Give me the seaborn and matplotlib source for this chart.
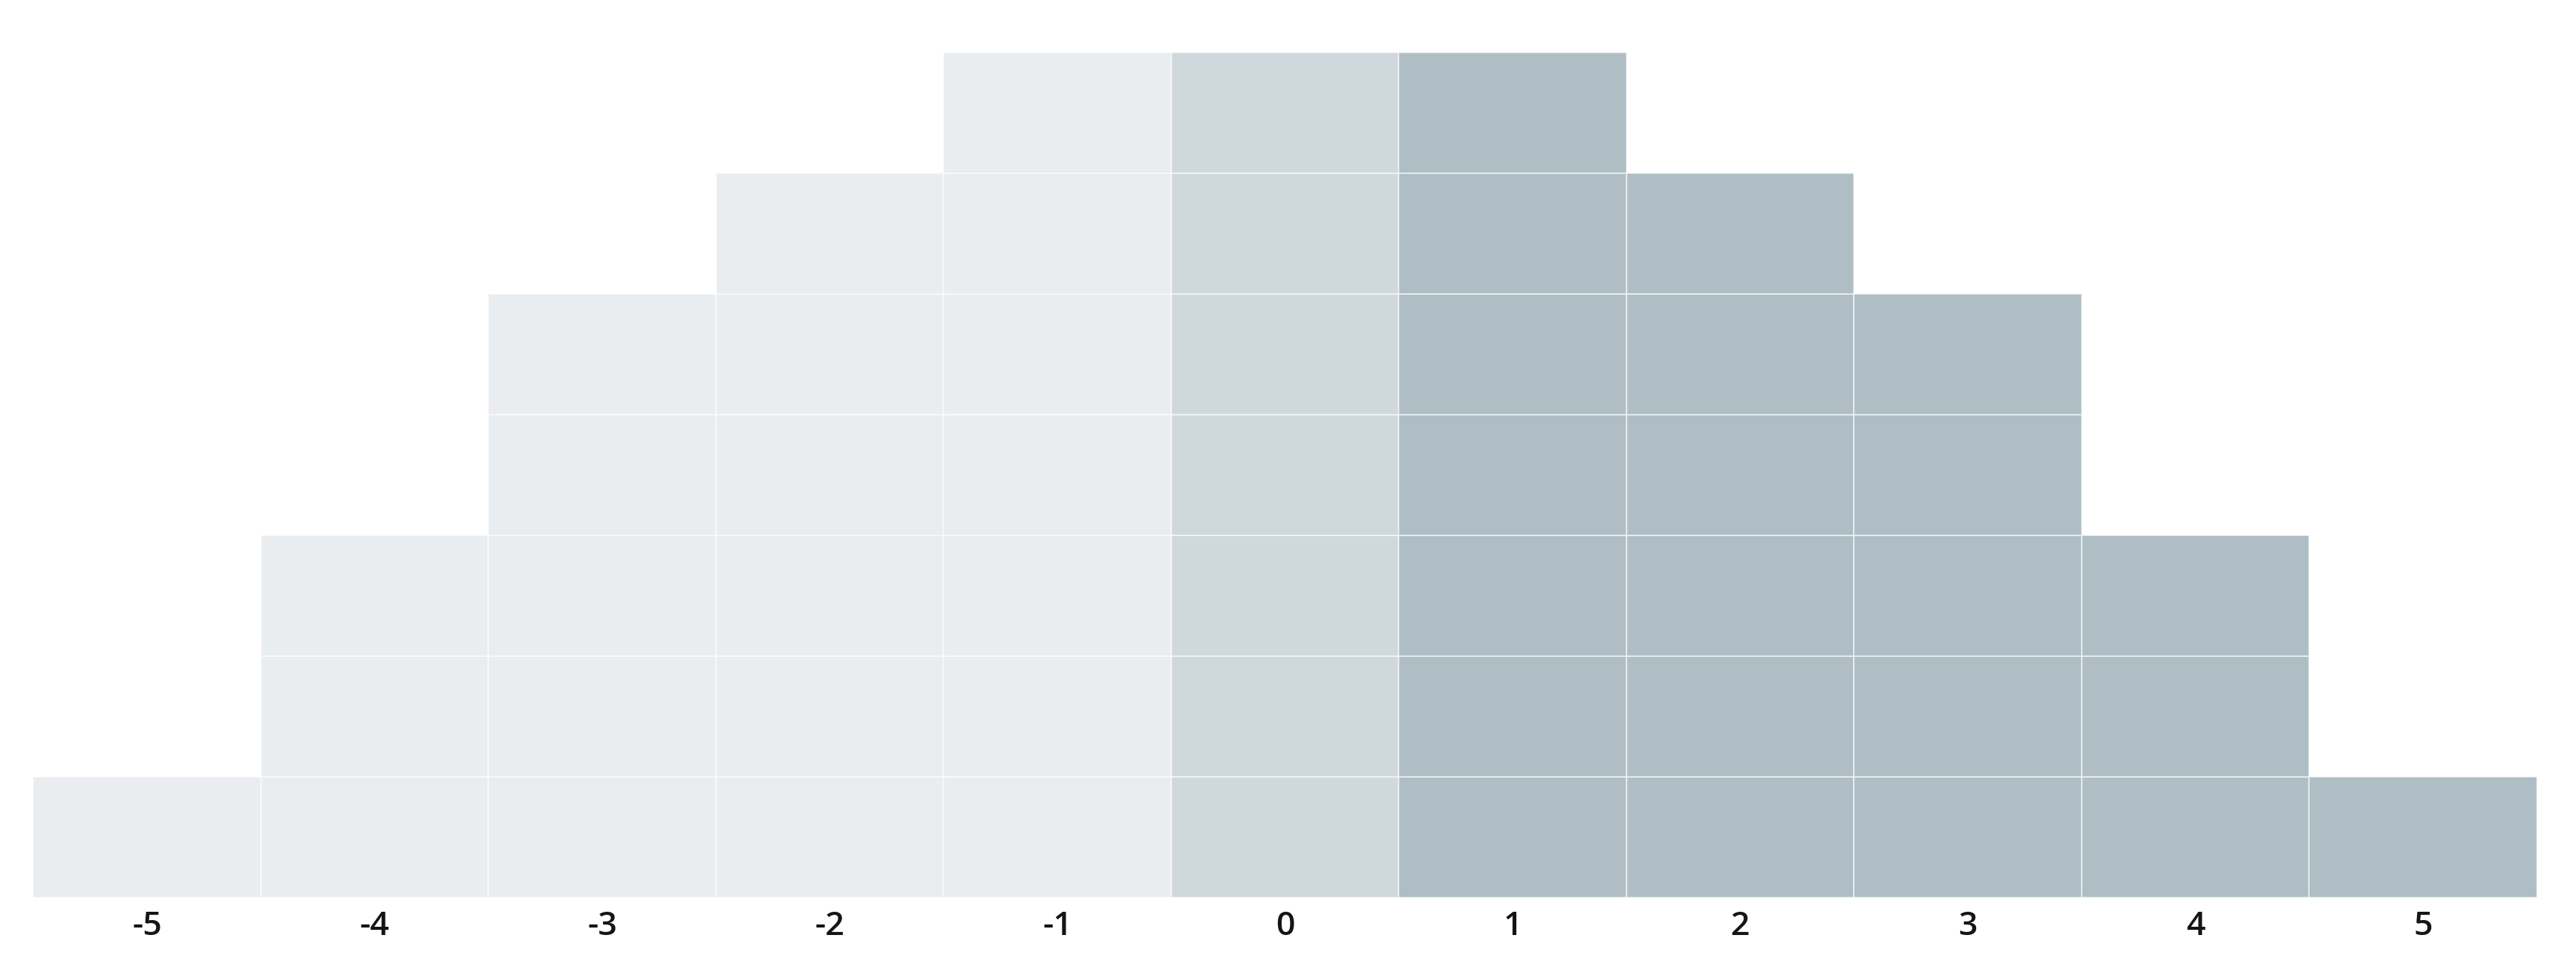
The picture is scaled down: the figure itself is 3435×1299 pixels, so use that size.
import matplotlib
matplotlib.use("Agg")
import matplotlib.pyplot as plt
import numpy as np
import pandas as pd
import seaborn as sns

sns.set_theme(style="white")
plt.rcParams["font.family"] = ["Open Sans", "DejaVu Sans"]

# Values on the x axis and how many squares are stacked on each
values = [-5, -4, -3, -2, -1, 0, 1, 2, 3, 4, 5]
counts = [1, 3, 5, 6, 7, 7, 7, 6, 5, 3, 1]

neg_color = "#e9edf0"
zero_color = "#cfd8dc"
pos_color = "#afbec4"

# One row per square in the stack
rows = []
for v, c in zip(values, counts):
    for level in range(c):
        rows.append({"value": v, "level": level})
df = pd.DataFrame(rows)


def pick_color(v):
    if v < 0:
        return neg_color
    if v == 0:
        return zero_color
    return pos_color


fig = plt.figure(figsize=(34.35, 12.99), dpi=100)
ax = fig.add_axes([44 / 3435, 1 - 1197 / 1299, (3383 - 44) / 3435, (1197 - 70) / 1299])

for level, grp in df.groupby("level"):
    ax.bar(grp["value"], 1, bottom=level, width=1.0,
           color=[pick_color(v) for v in grp["value"]],
           edgecolor=(1, 1, 1, 0.55), linewidth=1.5)

ax.set_xlim(-5.5, 5.5)
ax.set_ylim(0, 7)
ax.set_xticks(values)
ax.set_xticklabels([str(v) for v in values], fontsize=32, fontweight=600, color="#151515")
ax.tick_params(axis="x", length=0, pad=12)
ax.set_yticks([])
sns.despine(ax=ax, left=True, bottom=True, top=True, right=True)

fig.savefig("out.png", dpi=100)
